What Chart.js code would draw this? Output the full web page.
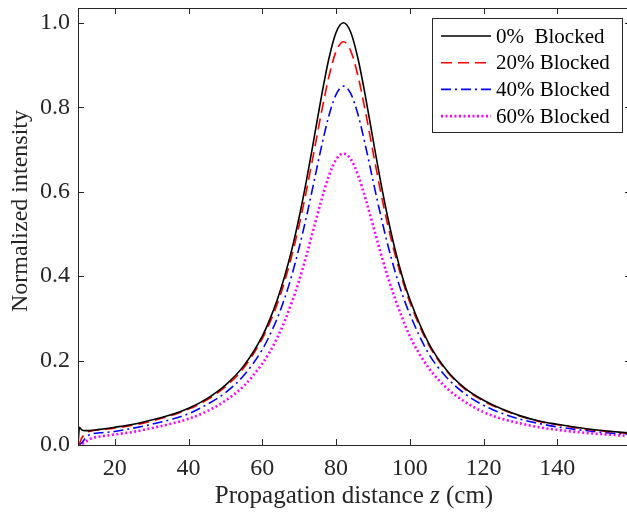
<!DOCTYPE html>
<html>
<head>
<meta charset="utf-8">
<script src="https://cdn.jsdelivr.net/npm/chart.js@4.4.1/dist/chart.umd.min.js"></script>
<style>
    html, body { margin: 0; padding: 0; background: #fff; overflow: hidden; }
    #wrap { width: 634px; height: 514px; }
</style>
</head>
<body>
<div id="wrap"><canvas id="chart" width="634" height="514"></canvas></div>
<script>
// Propagation distance z (cm)
const zValues = [10, 10.4, 11, 12, 13, 14, 16, 20, 25, 30, 35, 40, 45, 50, 55, 60,
    62, 64, 66, 68, 70, 72, 74, 76, 78, 80, 82, 84, 86, 88, 90, 92, 94, 96, 98, 100,
    105, 110, 115, 120, 125, 130, 135, 140, 145, 150, 155, 160];

const blocked0 = [0, 0.042, 0.036, 0.034, 0.034, 0.035, 0.037, 0.042, 0.049, 0.059, 0.071, 0.087, 0.110, 0.142, 0.188, 0.258,
    0.297, 0.343, 0.398, 0.463, 0.540, 0.628, 0.725, 0.824, 0.913, 0.977, 1.000, 0.977, 0.913, 0.824, 0.725, 0.628, 0.540, 0.463, 0.398, 0.345,
    0.243, 0.177, 0.134, 0.106, 0.085, 0.069, 0.057, 0.049, 0.042, 0.036, 0.032, 0.028];

const blocked20 = [0, 0.004, 0.016, 0.028, 0.032, 0.034, 0.036, 0.040, 0.047, 0.057, 0.069, 0.085, 0.107, 0.138, 0.183, 0.252,
    0.289, 0.333, 0.386, 0.449, 0.521, 0.604, 0.694, 0.786, 0.870, 0.932, 0.955, 0.933, 0.872, 0.788, 0.695, 0.604, 0.522, 0.451, 0.390, 0.338,
    0.239, 0.175, 0.132, 0.104, 0.084, 0.068, 0.056, 0.048, 0.041, 0.035, 0.031, 0.027];

const blocked40 = [0, 0.001, 0.005, 0.016, 0.024, 0.027, 0.029, 0.032, 0.040, 0.049, 0.060, 0.074, 0.096, 0.124, 0.165, 0.226,
    0.260, 0.299, 0.346, 0.402, 0.468, 0.542, 0.623, 0.705, 0.778, 0.830, 0.850, 0.832, 0.781, 0.708, 0.627, 0.548, 0.475, 0.411, 0.356, 0.310,
    0.218, 0.160, 0.121, 0.094, 0.075, 0.061, 0.051, 0.043, 0.037, 0.032, 0.028, 0.025];

const blocked60 = [0, 0.000, 0.002, 0.007, 0.013, 0.017, 0.020, 0.025, 0.031, 0.040, 0.050, 0.062, 0.080, 0.105, 0.140, 0.193,
    0.220, 0.253, 0.292, 0.338, 0.390, 0.450, 0.515, 0.579, 0.636, 0.676, 0.690, 0.677, 0.638, 0.583, 0.521, 0.458, 0.399, 0.347, 0.300, 0.258,
    0.184, 0.135, 0.102, 0.078, 0.062, 0.051, 0.042, 0.036, 0.031, 0.027, 0.024, 0.021];

const seriesLabels = ['0%  Blocked', '20% Blocked', '40% Blocked', '60% Blocked'];
const xTicks = [20, 40, 60, 80, 100, 120, 140];
const yTicks = [0, 0.2, 0.4, 0.6, 0.8, 1.0];

const ink = '#262626';
const serif = '"Liberation Serif", "Times New Roman", serif';

const toPoints = arr => arr.map((v, i) => ({ x: zValues[i], y: v }));

const styles = [
    { color: '#000000', dash: [], width: 1.6 },
    { color: '#ff0000', dash: [11, 6], width: 1.6 },
    { color: '#0000ff', dash: [10, 4, 2, 4], width: 1.6 },
    { color: '#ff00ff', dash: [2, 2.5], width: 2.6 }
];

const datasets = [blocked0, blocked20, blocked40, blocked60].map((arr, i) => ({
    label: seriesLabels[i],
    data: toPoints(arr),
    borderColor: styles[i].color,
    borderDash: styles[i].dash,
    borderWidth: styles[i].width,
    pointRadius: 0,
    fill: false,
    cubicInterpolationMode: 'monotone'
}));

// box, inward ticks, legend and axis titles
const framePlugin = {
    id: 'frame',
    afterDatasetsDraw(chart) {
        const { ctx, chartArea: a, scales: { x, y } } = chart;
        ctx.save();
        ctx.strokeStyle = ink;
        ctx.lineWidth = 1;
        ctx.setLineDash([]);
        ctx.strokeRect(a.left + 0.5, a.top + 0.5, a.right - a.left, a.bottom - a.top);

        ctx.beginPath();
        xTicks.forEach(v => {
            const px = Math.round(x.getPixelForValue(v)) + 0.5;
            ctx.moveTo(px, a.bottom); ctx.lineTo(px, a.bottom - 6);
            ctx.moveTo(px, a.top); ctx.lineTo(px, a.top + 6);
        });
        yTicks.forEach(v => {
            const py = Math.round(y.getPixelForValue(v)) + 0.5;
            ctx.moveTo(a.left, py); ctx.lineTo(a.left + 6, py);
            ctx.moveTo(a.right, py); ctx.lineTo(a.right - 6, py);
        });
        ctx.stroke();

        // Legend
        const lx = 432, ly = 18, lw = 190, lh = 114;
        ctx.fillStyle = '#fff';
        ctx.fillRect(lx, ly, lw, lh);
        ctx.strokeStyle = ink;
        ctx.strokeRect(lx + 0.5, ly + 0.5, lw, lh);
        ctx.font = '21px ' + serif;
        ctx.textBaseline = 'middle';
        ctx.textAlign = 'left';
        datasets.forEach((ds, i) => {
            const yy = 36 + i * 26.7;
            ctx.beginPath();
            ctx.strokeStyle = ds.borderColor;
            ctx.lineWidth = ds.borderWidth;
            ctx.setLineDash(ds.borderDash);
            ctx.moveTo(441, yy); ctx.lineTo(491, yy);
            ctx.stroke();
            ctx.setLineDash([]);
            ctx.fillStyle = '#000';
            ctx.fillText(ds.label, 496, yy + 1);
        });

        // X axis title with italic z
        const parts = [
            { t: 'Propagation distance ', f: '25px ' + serif },
            { t: 'z', f: 'italic 25px ' + serif },
            { t: ' (cm)', f: '25px ' + serif }
        ];
        let total = 0;
        parts.forEach(p => { ctx.font = p.f; total += ctx.measureText(p.t).width; });
        let cx = 354 - total / 2;
        ctx.fillStyle = ink;
        ctx.textBaseline = 'middle';
        parts.forEach(p => {
            ctx.font = p.f;
            ctx.fillText(p.t, cx, 496);
            cx += ctx.measureText(p.t).width;
        });

        // Y axis title
        ctx.translate(21, 211);
        ctx.rotate(-Math.PI / 2);
        ctx.font = '24px ' + serif;
        ctx.textAlign = 'center';
        ctx.fillText('Normalized intensity', 0, 0);
        ctx.restore();
    }
};

new Chart(document.getElementById('chart').getContext('2d'), {
    type: 'line',
    data: { datasets },
    plugins: [framePlugin],
    options: {
        responsive: false,
        animation: false,
        layout: { padding: { top: 8, right: 3, left: 0, bottom: 0 } },
        plugins: { legend: { display: false }, tooltip: { enabled: false } },
        scales: {
            x: {
                type: 'linear',
                min: 10,
                max: 160,
                afterBuildTicks: s => { s.ticks = xTicks.map(v => ({ value: v })); },
                afterFit: s => { s.height = 69; s.paddingLeft = 0; s.paddingRight = 0; },
                grid: { display: false, drawTicks: false },
                border: { display: false },
                ticks: { color: ink, font: { family: serif, size: 24 }, padding: 9, maxRotation: 0 }
            },
            y: {
                min: 0,
                max: 1.035,
                afterBuildTicks: s => { s.ticks = yTicks.map(v => ({ value: v })); },
                afterFit: s => { s.width = 78; s.paddingTop = 0; s.paddingBottom = 0; },
                grid: { display: false, drawTicks: false },
                border: { display: false },
                ticks: { color: ink, font: { family: serif, size: 24 }, padding: 8, callback: v => v.toFixed(1) }
            }
        }
    }
});
</script>
</body>
</html>
